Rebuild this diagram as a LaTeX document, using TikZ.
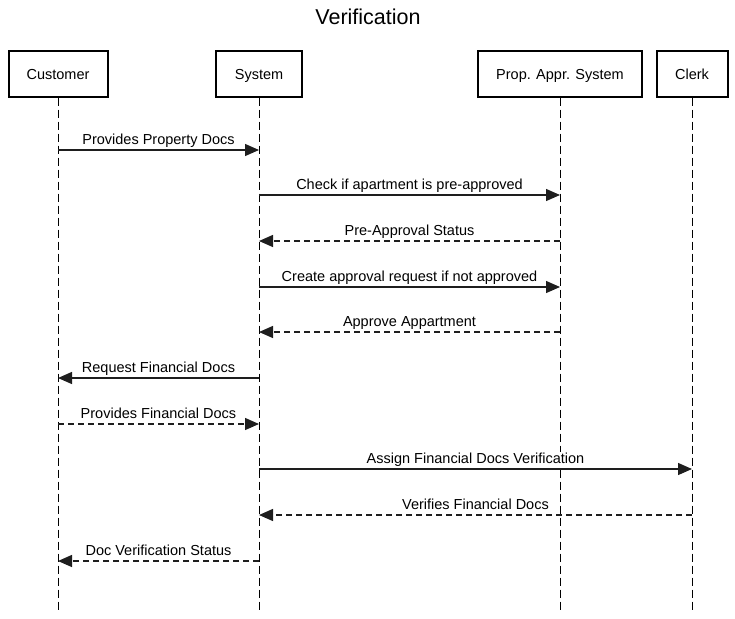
\documentclass[tikz,border=0pt]{standalone}
\usepackage{fontspec}
\setmainfont{Liberation Sans}
\usepackage{tikz}
\usetikzlibrary{arrows.meta,positioning}
\definecolor{ink}{RGB}{0,0,0}
\definecolor{wire}{RGB}{30,30,30}

\begin{document}
\begin{tikzpicture}[
  x=1pt, y=-1pt,
  font=\fontsize{14.5}{17}\selectfont,
  actor/.style={draw=ink, line width=2pt, fill=white, minimum height=45pt, inner sep=4pt,
    text height=1em, text depth=0pt, anchor=center},
  life/.style={draw=ink, line width=1pt, dash pattern=on 8pt off 4pt},
  msg/.style={-{Triangle[length=14pt, width=12pt]}, line width=1.3pt, wire},
  ret/.style={msg, dash pattern=on 6pt off 4pt},
  lbl/.style={anchor=base, yshift=6pt, inner sep=1pt, fill=white, text=ink},
]
\useasboundingbox (0,0) rectangle (735,618);
% title
\node[font=\fontsize{21.5}{24}\selectfont] (title) at (368,17) {Verification};
% actors
\node[actor, minimum width=99pt] (cust) at (58,74) {Customer};
\node[actor, minimum width=86pt] (sys) at (259,74) {System};
\node[actor, minimum width=164pt] (pas) at (560,74) {Prop. Appr. System};
\node[actor, minimum width=71pt] (clerk) at (692,74) {Clerk};
% lifelines
\coordinate (bot) at (0,612);
\draw[life] (cust.south) -- (cust |- bot);
\draw[life] (sys.south) -- (sys |- bot);
\draw[life] (pas.south) -- (pas |- bot);
\draw[life] (clerk.south) -- (clerk |- bot);
% message rows
\coordinate (m1) at (0,150);
\coordinate (m2) at (0,195);
\coordinate (m3) at (0,241);
\coordinate (m4) at (0,287);
\coordinate (m5) at (0,332);
\coordinate (m6) at (0,378);
\coordinate (m7) at (0,424);
\coordinate (m8) at (0,469);
\coordinate (m9) at (0,515);
\coordinate (m10) at (0,561);
% messages
\draw[msg] (cust |- m1) -- node[lbl] (l1) {Provides Property Docs} (sys |- m1);
\draw[msg] (sys |- m2) -- node[lbl] (l2) {Check if apartment is pre-approved} (pas |- m2);
\draw[ret] (pas |- m3) -- node[lbl] (l3) {Pre-Approval Status} (sys |- m3);
\draw[msg] (sys |- m4) -- node[lbl] (l4) {Create approval request if not approved} (pas |- m4);
\draw[ret] (pas |- m5) -- node[lbl] (l5) {Approve Appartment} (sys |- m5);
\draw[msg] (sys |- m6) -- node[lbl] (l6) {Request Financial Docs} (cust |- m6);
\draw[ret] (cust |- m7) -- node[lbl] (l7) {Provides Financial Docs} (sys |- m7);
\draw[msg] (sys |- m8) -- node[lbl] (l8) {Assign Financial Docs Verification} (clerk |- m8);
\draw[ret] (clerk |- m9) -- node[lbl] (l9) {Verifies Financial Docs} (sys |- m9);
\draw[ret] (sys |- m10) -- node[lbl] (l10) {Doc Verification Status} (cust |- m10);
\end{tikzpicture}
\end{document}
